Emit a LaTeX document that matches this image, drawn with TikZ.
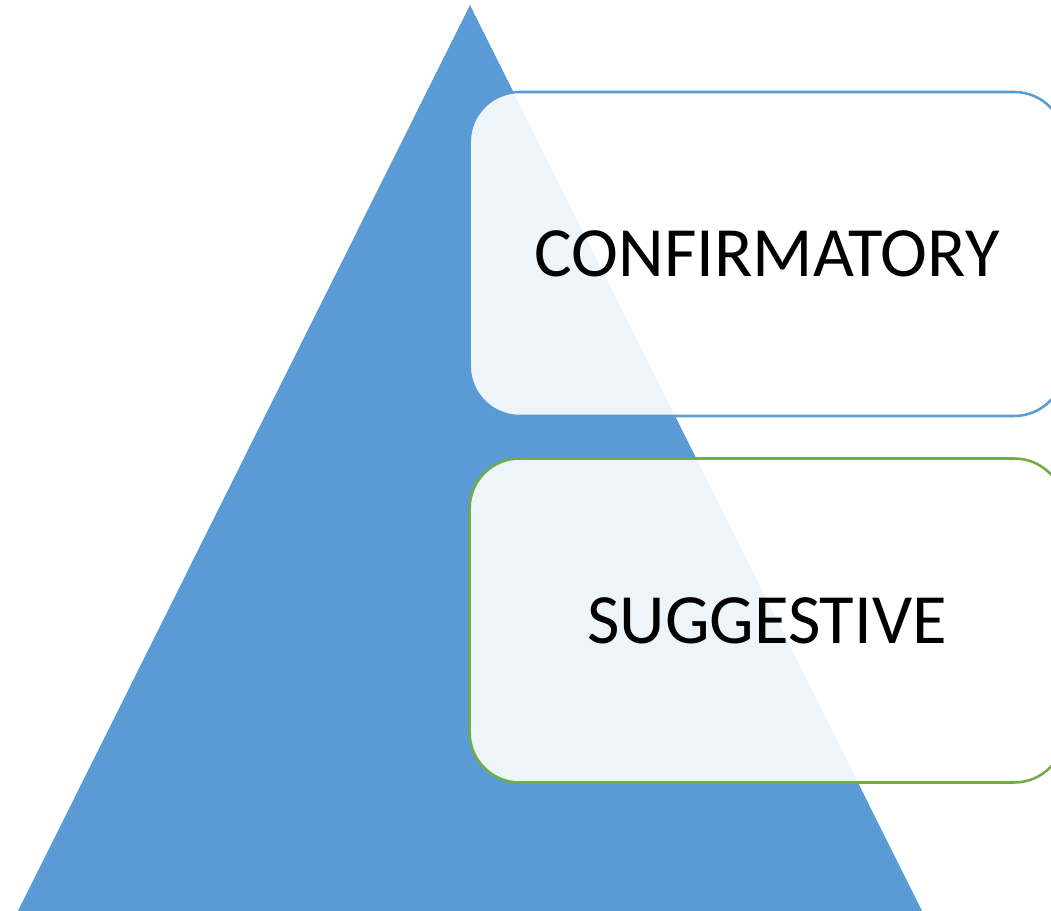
\documentclass[tikz,border=0pt]{standalone}
\usepackage{fontspec}
\setmainfont{Carlito}
\definecolor{tribase}{HTML}{5B9BD5}
\definecolor{sugline}{HTML}{70AD47}
\tikzset{
  levelbox/.style={rectangle, rounded corners=37.5pt, fill=white, fill opacity=0.9,
    text opacity=1, line width=1.9pt, minimum width=446pt, minimum height=243pt,
    font=\fontsize{53}{58}\selectfont},
}
\begin{document}
\begin{tikzpicture}[x=0.75pt, y=0.75pt]

\def\xl{0}; % left
\def\xr{1051}; % right
\def\yb{0}; % bottom
\def\yt{911}; % top

\useasboundingbox (\xl, \yb) rectangle (\xr, \yt);
\clip (\xl, \yb) rectangle (\xr, \yt);

% pyramid
\coordinate (apex) at (470, 906);
\coordinate (bl) at (18, 0);
\coordinate (br) at (922, 0);
\fill[tribase] (apex) -- (bl) -- (br) -- cycle;

% levels
\node[levelbox, draw=tribase] (conf) at (767, 657) {CONFIRMATORY};
\node[levelbox, draw=sugline] (sugg) at (767, 290.5) {SUGGESTIVE};

\end{tikzpicture}
\end{document}
